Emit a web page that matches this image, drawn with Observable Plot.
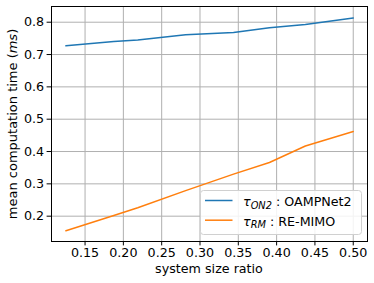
<!DOCTYPE html>
<html><head><meta charset="utf-8">
<script src="https://cdn.jsdelivr.net/npm/d3@7"></script>
<script src="https://cdn.jsdelivr.net/npm/@observablehq/plot@0.6"></script>
<style>body{margin:0;background:#fff}#chart{width:374px;height:283px}</style>
</head><body><div id="chart"></div>
<script>
const ratio = [0.125, 0.1875, 0.21875, 0.28125, 0.34375, 0.390625, 0.4375, 0.5];
const tauON2 = [0.727, 0.740, 0.745, 0.761, 0.768, 0.783, 0.793, 0.813];
const tauRM = [0.155, 0.202, 0.226, 0.279, 0.330, 0.366, 0.417, 0.462];
const xTicks = [0.15, 0.20, 0.25, 0.30, 0.35, 0.40, 0.45, 0.50];
const yTicks = [0.2, 0.3, 0.4, 0.5, 0.6, 0.7, 0.8];
const seriesNames = ["OAMPNet2", "RE-MIMO"];
const seriesSubs = ["ON2", "RM"];
const colors = ["#1f77b4", "#ff7f0e"];

const font = "DejaVu Sans";
const fs = "12.7px";
const plot = Plot.plot({
  width: 374, height: 283,
  marginLeft: 51, marginRight: 7, marginTop: 6, marginBottom: 42,
  style: {fontFamily: font, fontSize: fs, color: "#000", background: "#fff", overflow: "visible"},
  x: {domain: [0.1062, 0.5186]},
  y: {domain: [0.1217, 0.8486]},
  marks: [
    Plot.gridX(xTicks, {stroke: "#b0b0b0", strokeOpacity: 1, strokeWidth: 1}),
    Plot.gridY(yTicks, {stroke: "#b0b0b0", strokeOpacity: 1, strokeWidth: 1}),
    Plot.axisX(xTicks, {tickSize: 4.4, tickPadding: 2.5, tickFormat: d => d.toFixed(2), label: null, stroke: "#000"}),
    Plot.axisY(yTicks, {tickSize: 4.4, tickPadding: 3, tickFormat: d => d.toFixed(1), label: null, stroke: "#000"}),
    Plot.line(ratio, {x: ratio, y: tauON2, stroke: colors[0], strokeWidth: 1.5}),
    Plot.line(ratio, {x: ratio, y: tauRM, stroke: colors[1], strokeWidth: 1.5}),
    Plot.frame({stroke: "#000", strokeWidth: 1})
  ]
});
document.getElementById("chart").appendChild(plot);

const svg = d3.select(plot);
// x axis label
svg.append("text").attr("x", 209).attr("y", 272.5)
  .attr("text-anchor", "middle")
  .attr("font-family", font).attr("font-size", fs).attr("fill", "#000")
  .text("system size ratio");
// y axis label
const yl = svg.append("text")
  .attr("transform", "translate(17,124) rotate(-90)")
  .attr("text-anchor", "middle")
  .attr("font-family", font).attr("font-size", "13px").attr("fill", "#000");
yl.append("tspan").text("mean computation time (");
yl.append("tspan").attr("font-style", "italic").text("ms");
yl.append("tspan").text(")");

// legend
const lg = svg.append("g");
lg.append("rect").attr("x", 200.5).attr("y", 190.5).attr("width", 161).attr("height", 44)
  .attr("rx", 3).style("fill", "#fff").style("fill-opacity", 0.85).style("stroke", "#d0d0d0").style("stroke-width", 1);
seriesNames.forEach((name, i) => {
  const yb = 206 + i * 19.7;
  lg.append("line").attr("x1", 205).attr("x2", 232.5).attr("y1", yb - 5.5).attr("y2", yb - 5.5)
    .style("stroke", colors[i]).style("stroke-width", 1.5);
  const t = lg.append("text").attr("x", 243).attr("y", yb)
    .attr("text-anchor", "start")
    .attr("font-family", font).attr("font-size", fs).attr("fill", "#000");
  t.append("tspan").attr("font-style", "italic").text("τ");
  t.append("tspan").attr("font-style", "italic").attr("font-size", "9.8px").attr("dy", 2.5).text(seriesSubs[i]);
  t.append("tspan").attr("dy", -2.5).text(" : " + name);
});
</script>
</body></html>
